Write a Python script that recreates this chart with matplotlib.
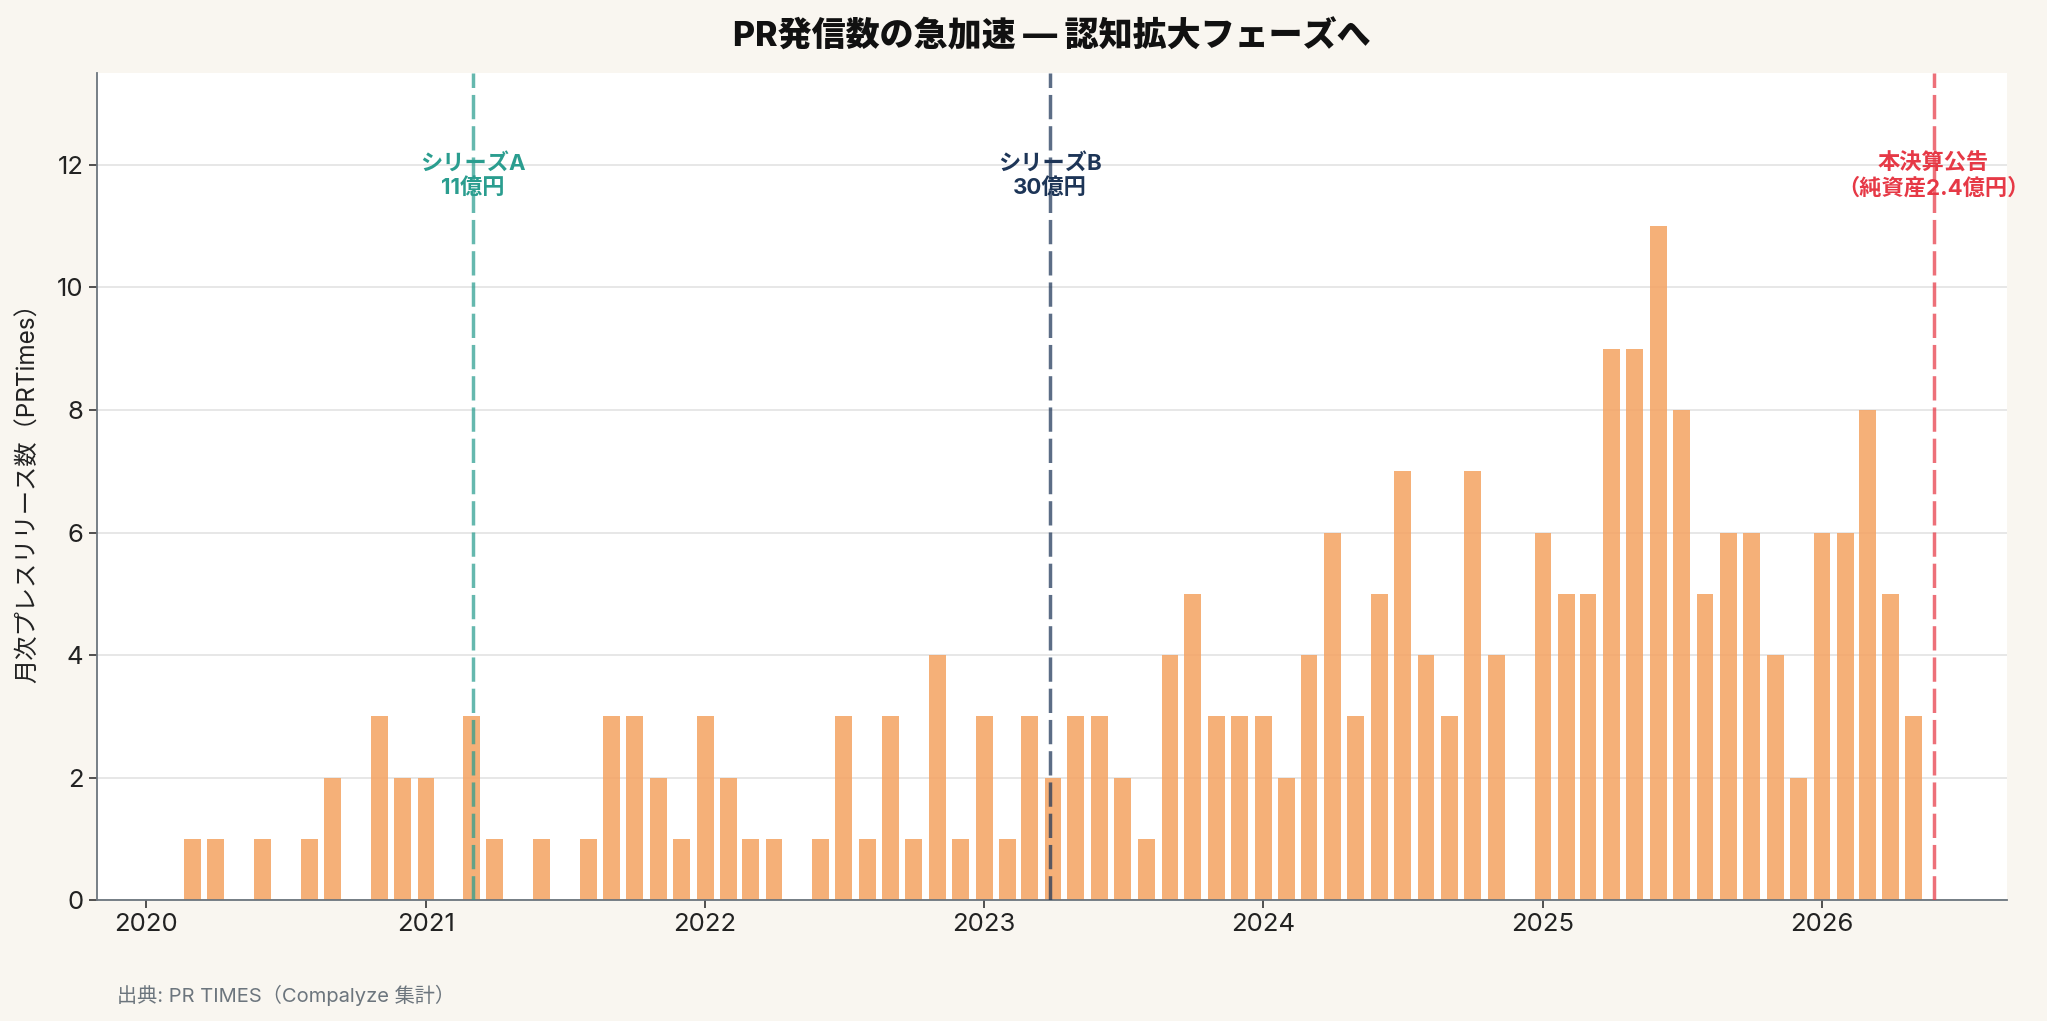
import matplotlib
matplotlib.use("Agg")
import matplotlib.pyplot as plt
import matplotlib.dates as mdates
import numpy as np
import pandas as pd

plt.rcParams['font.family'] = ['Inter', 'Noto Sans CJK JP', 'DejaVu Sans']

# ---- data ----
months = pd.date_range("2020-01-01", "2026-05-01", freq="MS")
counts = [
    0, 0, 1, 1, 0, 1, 0, 1, 2, 0, 3, 2,   # 2020
    2, 0, 3, 1, 0, 1, 0, 1, 3, 3, 2, 1,   # 2021
    3, 2, 1, 1, 0, 1, 3, 1, 3, 1, 4, 1,   # 2022
    3, 1, 3, 2, 3, 3, 2, 1, 4, 5, 3, 3,   # 2023
    3, 2, 4, 6, 3, 5, 7, 4, 3, 7, 4, 0,   # 2024
    6, 5, 5, 9, 9, 11, 8, 5, 6, 6, 4, 2,  # 2025
    6, 6, 8, 5, 3,                        # 2026
]
event_dates = pd.to_datetime(["2021-03-03", "2023-03-28", "2026-05-27"])
event_labels = ["シリーズA\n11億円", "シリーズB\n30億円", "本決算公告\n（純資産2.4億円）"]
event_colors = ["#2A9D8F", "#1D3557", "#E63946"]
year_ticks = pd.to_datetime([f"{y}-01-01" for y in range(2020, 2027)])
y_ticks = [0, 2, 4, 6, 8, 10, 12]

title = "PR発信数の急加速 — 認知拡大フェーズへ"
ylabel = "月次プレスリリース数（PRTimes）"
source = "出典: PR TIMES（Compalyze 集計）"

# ---- figure ----
W, H, DPI = 2047, 1021, 100
fig = plt.figure(figsize=(W / DPI, H / DPI), dpi=DPI, facecolor="#F9F6F0")
ax = fig.add_axes([96.6 / W, 1 - 900.3 / H, (2007 - 96.6) / W, (900.3 - 73) / H])
ax.set_facecolor("white")

ax.bar(months, counts, width=22, color="#F4A261", alpha=0.85, zorder=2, align="center")

for d, lab, c in zip(event_dates, event_labels, event_colors):
    ax.axvline(d, color=c, lw=2.5, linestyle=(0, (7, 2)), alpha=0.72, zorder=3)
    ax.text(d, 11.83, lab, color=c, ha="center", va="center", fontsize=16,
            fontweight="bold", linespacing=1.2, zorder=4, clip_on=False)

ax.set_xlim(pd.Timestamp("2019-10-28"), pd.Timestamp("2026-08-31"))
ax.set_ylim(0, 13.5)
ax.set_yticks(y_ticks)
ax.set_xticks(year_ticks)
ax.xaxis.set_major_formatter(mdates.DateFormatter("%Y"))

ax.grid(axis="y", color="#E3E3E3", lw=1.2, zorder=0)
ax.grid(axis="x", visible=False)
ax.set_axisbelow(True)

for s in ["top", "right"]:
    ax.spines[s].set_visible(False)
for s in ["left", "bottom"]:
    ax.spines[s].set_color("#6C757D")
    ax.spines[s].set_linewidth(1.3)
ax.tick_params(axis="both", labelsize=18.5, colors="#222222", length=6, width=1.2)
ax.tick_params(axis="both", color="#333333")

ax.set_ylabel(ylabel, fontsize=17.5, color="#222222", labelpad=12)
ax.set_title(title, fontsize=24.5, fontweight="heavy", color="#111111", pad=19)

fig.text(117 / W, 1 - 995 / H, source, fontsize=14.5, color="#6C757D", ha="left", va="center")

fig.savefig("out.png", dpi=DPI, facecolor=fig.get_facecolor())
